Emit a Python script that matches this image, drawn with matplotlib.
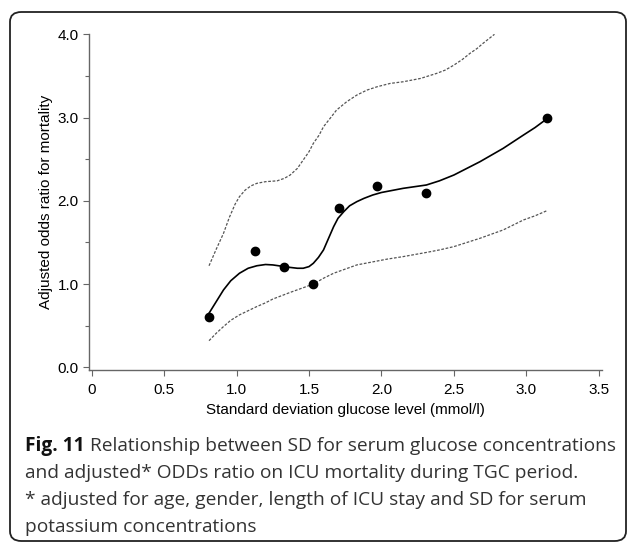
import matplotlib
matplotlib.use("Agg")
import matplotlib.pyplot as plt
from matplotlib.patches import FancyBboxPatch
from matplotlib.ticker import MultipleLocator

# observed points
sd_glucose = [0.81, 1.13, 1.33, 1.53, 1.71, 1.97, 2.31, 3.14]
odds_ratio = [0.60, 1.40, 1.20, 1.00, 1.91, 2.18, 2.09, 2.99]

# fitted curve
fit_x = [0.81, 0.86, 0.91, 0.96, 1.02, 1.08, 1.14, 1.20, 1.25, 1.31, 1.37,
         1.42, 1.46, 1.50, 1.53, 1.565, 1.60, 1.635, 1.67, 1.70, 1.74, 1.78,
         1.83, 1.88, 1.94, 2.00, 2.06, 2.15, 2.23, 2.31, 2.40, 2.50, 2.59,
         2.68, 2.76, 2.84, 2.91, 2.98, 3.06, 3.13]
fit_y = [0.65, 0.79, 0.93, 1.04, 1.13, 1.19, 1.22, 1.235, 1.23, 1.215, 1.20,
         1.19, 1.19, 1.21, 1.25, 1.32, 1.41, 1.55, 1.69, 1.79, 1.87, 1.94,
         1.99, 2.03, 2.07, 2.10, 2.12, 2.15, 2.17, 2.19, 2.24, 2.31, 2.39,
         2.47, 2.55, 2.63, 2.71, 2.79, 2.88, 2.97]

# upper confidence band
upper_x = [0.81, 0.86, 0.91, 0.95, 0.99, 1.02, 1.06, 1.10, 1.14, 1.20, 1.28,
           1.33, 1.37, 1.42, 1.46, 1.50, 1.53, 1.57, 1.60, 1.65, 1.69, 1.76,
           1.83, 1.90, 1.97, 2.06, 2.15, 2.27, 2.38, 2.44, 2.50, 2.56, 2.61,
           2.66, 2.70, 2.78]
upper_y = [1.22, 1.42, 1.61, 1.80, 1.96, 2.05, 2.13, 2.18, 2.21, 2.23, 2.24,
           2.27, 2.31, 2.39, 2.49, 2.59, 2.69, 2.79, 2.89, 3.00, 3.09, 3.19,
           3.27, 3.33, 3.37, 3.41, 3.43, 3.47, 3.53, 3.57, 3.63, 3.70, 3.77,
           3.83, 3.89, 4.00]

# lower confidence band
lower_x = [0.81, 0.86, 0.91, 0.96, 1.02, 1.08, 1.14, 1.20, 1.25, 1.31, 1.37,
           1.45, 1.53, 1.60, 1.67, 1.75, 1.83, 1.92, 2.04, 2.15, 2.31, 2.40,
           2.50, 2.59, 2.68, 2.76, 2.84, 2.91, 2.98, 3.06, 3.14]
lower_y = [0.32, 0.41, 0.49, 0.565, 0.63, 0.68, 0.73, 0.775, 0.82, 0.86, 0.90,
           0.95, 1.00, 1.07, 1.13, 1.18, 1.23, 1.26, 1.30, 1.33, 1.38, 1.41,
           1.45, 1.50, 1.55, 1.60, 1.65, 1.71, 1.77, 1.82, 1.88]

caption_lines = [
    "Relationship between SD for serum glucose concentrations",
    "and adjusted* ODDs ratio on ICU mortality during TGC period.",
    "* adjusted for age, gender, length of ICU stay and SD for serum",
    "potassium concentrations",
]

W, H = 630, 543
fig = plt.figure(figsize=(W / 100, H / 100), dpi=100)
plt.rcParams['font.family'] = ['Liberation Sans', 'DejaVu Sans']

# rounded frame around figure + caption
frame = FancyBboxPatch((10 / W, 1 - 541 / H), 616 / W, 529 / H,
                       boxstyle="round,pad=0,rounding_size=0.018",
                       transform=fig.transFigure, fill=False,
                       edgecolor="#222222", linewidth=1.3, clip_on=False)
fig.patches.append(frame)

ax = fig.add_axes([89.2 / W, 1 - 370 / H, 512.5 / W, 335.7 / H])
ax.plot(upper_x, upper_y, color="#555555", lw=0.9, ls=(0, (2.2, 1.3)))
ax.plot(lower_x, lower_y, color="#555555", lw=0.9, ls=(0, (2.2, 1.3)))
ax.plot(fit_x, fit_y, color="black", lw=1.2)
ax.plot(sd_glucose, odds_ratio, "o", color="black", markersize=6)

ax.set_xlim(-0.017, 3.52)
ax.set_ylim(-0.032, 4.0)
ax.set_xticks([0, 0.5, 1.0, 1.5, 2.0, 2.5, 3.0, 3.5])
ax.set_xticklabels(["0", "0.5", "1.0", "1.5", "2.0", "2.5", "3.0", "3.5"])
ax.set_yticks([0, 1, 2, 3, 4])
ax.set_yticklabels(["0.0", "1.0", "2.0", "3.0", "4.0"])
ax.yaxis.set_minor_locator(MultipleLocator(0.5))

for s in ["top", "right"]:
    ax.spines[s].set_visible(False)
for s in ["left", "bottom"]:
    ax.spines[s].set_color("#666666")
    ax.spines[s].set_linewidth(1.0)
ax.tick_params(axis="both", which="major", length=4, width=0.8,
               color="#666666", labelsize=11, labelcolor="black")
ax.tick_params(axis="y", which="minor", length=3, width=0.8, color="#666666")
ax.tick_params(axis="x", pad=5)

ax.set_xlabel("Standard deviation glucose level (mmol/l)", fontsize=11, labelpad=5)
ax.set_ylabel("Adjusted odds ratio for mortality", fontsize=11, labelpad=3)

# caption
cap_font = ['Open Sans', 'DejaVu Sans']
fs = 13.8
x0 = 25 / W
bold = fig.text(x0, 1 - 450.7 / H, "Fig. 11", fontsize=fs, fontweight="bold",
                family=cap_font, color="#111111", va="baseline")
fig.canvas.draw()
bb = bold.get_window_extent()
fig.text(bb.x1 / W + 5 / W, 1 - 450.7 / H, caption_lines[0], fontsize=fs,
         family=cap_font, color="#333333", va="baseline")
for i, line in enumerate(caption_lines[1:]):
    fig.text(x0, 1 - (450.7 + 27 * (i + 1)) / H, line, fontsize=fs,
             family=cap_font, color="#333333", va="baseline")

fig.savefig("out.png", dpi=100)
